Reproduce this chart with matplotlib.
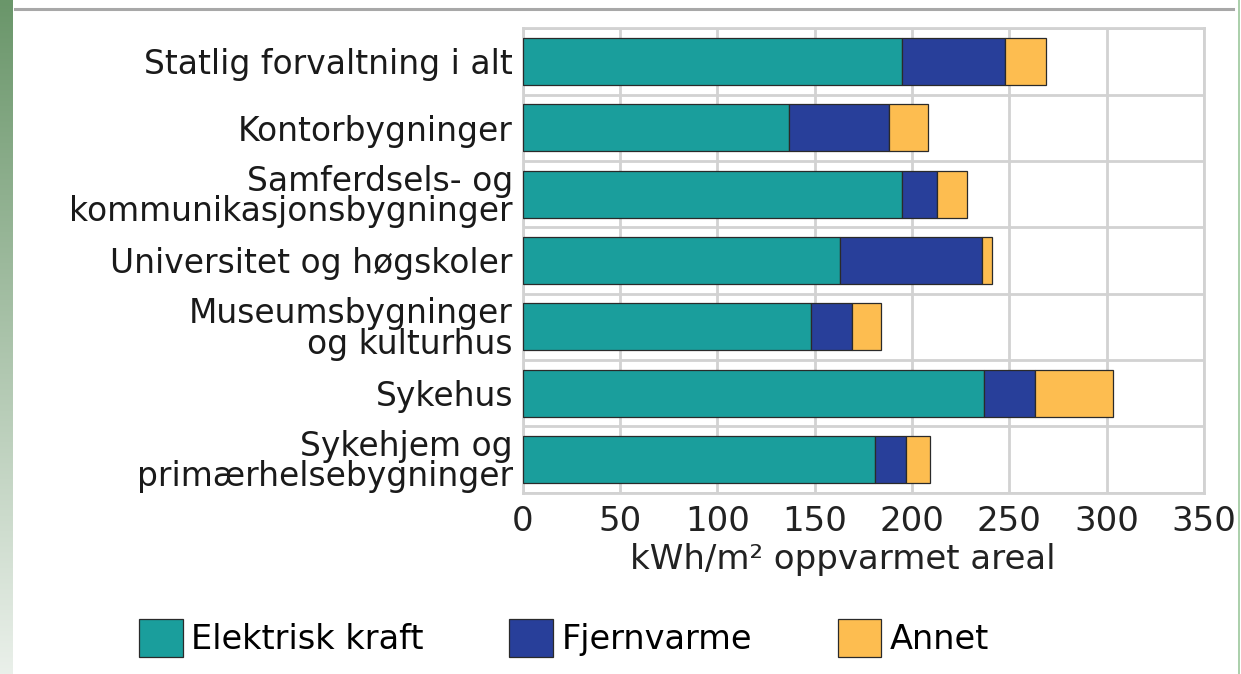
import numpy as np
import matplotlib
matplotlib.use("Agg")
import matplotlib.pyplot as plt
from matplotlib.lines import Line2D

categories = [
    "Statlig forvaltning i alt",
    "Kontorbygninger",
    "Samferdsels- og\nkommunikasjonsbygninger",
    "Universitet og høgskoler",
    "Museumsbygninger\nog kulturhus",
    "Sykehus",
    "Sykehjem og\nprimærhelsebygninger",
]
elektrisk = [195, 137, 195, 163, 148, 237, 181]
fjernvarme = [53, 51, 18, 73, 21, 26, 16]
annet = [21, 20, 15, 5, 15, 40, 12]
series_names = ["Elektrisk kraft", "Fjernvarme", "Annet"]
xticks = [0, 50, 100, 150, 200, 250, 300, 350]
xlabel = "kWh/m² oppvarmet areal"

colors = ["#1a9e9c", "#283f9a", "#fdbd50"]

plt.rcParams["font.family"] = ["DejaVu Sans"]

W, H = 1241, 674
fig = plt.figure(figsize=(W / 100, H / 100), dpi=100)
fig.patch.set_facecolor("white")

# decorative green strip on the left edge
strip = fig.add_axes([0, 0, 13 / W, 1])
grad = np.linspace(0, 1, 256)[:, None]
top_c = np.array([106, 150, 106]) / 255
bot_c = np.array([234, 240, 234]) / 255
img = top_c[None, None, :] * (1 - grad[:, :, None]) + bot_c[None, None, :] * grad[:, :, None]
strip.imshow(img, aspect="auto", extent=[0, 1, 0, 1])
strip.set_axis_off()

# top separator and right edge line
fig.add_artist(Line2D([15 / W, 1233 / W], [1 - 9 / H, 1 - 9 / H],
                      transform=fig.transFigure, color="#a8a8a8", lw=2.2))
fig.add_artist(Line2D([1238.5 / W, 1238.5 / W], [0, 1],
                      transform=fig.transFigure, color="#9cc79c", lw=1.2))

x0, x1 = 522.7, 1204.0
y0, y1 = 28.3, 492.7
ax = fig.add_axes([x0 / W, 1 - y1 / H, (x1 - x0) / W, (y1 - y0) / H])

y = np.arange(len(categories))
left = np.zeros(len(categories))
for vals, col, name in zip([elektrisk, fjernvarme, annet], colors, series_names):
    ax.barh(y, vals, left=left, height=0.71, color=col, edgecolor="#2a2a2a",
            linewidth=0.9, label=name, zorder=3)
    left = left + np.array(vals)

ax.set_xlim(0, 350)
ax.set_ylim(len(categories) - 0.5, -0.5)
ax.set_xticks(xticks)
ax.set_xticklabels([str(t) for t in xticks], fontsize=24.5, color="#222222")
ax.set_yticks(y)
ax.set_yticklabels(categories, fontsize=23.7, color="#1a1a1a", linespacing=0.9)
ax.tick_params(axis="both", length=0)
ax.tick_params(axis="x", pad=9)
ax.tick_params(axis="y", pad=7)

# grid: vertical at ticks, horizontal between categories
ax.set_yticks(np.arange(-0.5, len(categories), 1.0), minor=True)
ax.grid(axis="x", which="major", color="#d2d2d2", lw=2, zorder=0)
ax.grid(axis="y", which="minor", color="#d2d2d2", lw=2, zorder=0)
ax.tick_params(axis="y", which="minor", length=0)
for s in ax.spines.values():
    s.set_color("#d2d2d2")
    s.set_linewidth(2)

ax.set_xlabel(xlabel, fontsize=24.5, color="#222222")
ax.xaxis.set_label_coords((843 - x0) / (x1 - x0), (y1 - 543) / (y1 - y0))

handles, labels = ax.get_legend_handles_labels()
fig.legend(handles, labels, loc="center", bbox_to_anchor=(564 / W, 1 - 638 / H),
           ncol=3, frameon=False, fontsize=24.2, handlelength=1.3, handleheight=1.35,
           handletextpad=0.25, columnspacing=2.55, borderpad=0)

fig.savefig("out.png", dpi=100, facecolor="white")
